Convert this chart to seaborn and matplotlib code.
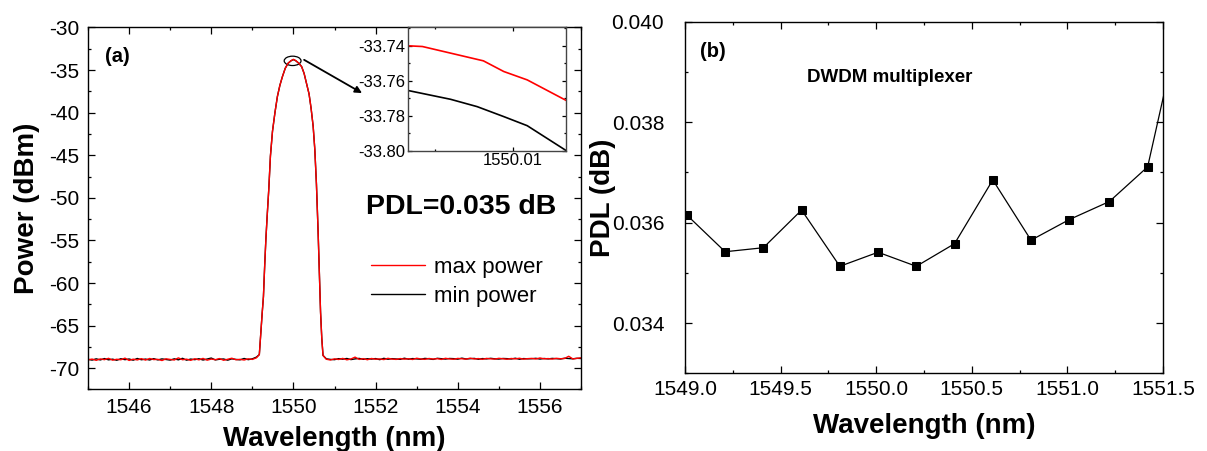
import numpy as np
import pandas as pd
import matplotlib
matplotlib.use("Agg")
import matplotlib.pyplot as plt
import seaborn as sns
from matplotlib.patches import Ellipse
from matplotlib.ticker import MultipleLocator, FixedLocator, FormatStrFormatter
from matplotlib.lines import Line2D

# ---------------- Panel (a) data ----------------
floor_left_wl = np.round(np.arange(1545.0, 1549.15, 0.1), 2)    # 1545.0 .. 1549.1
floor_right_wl = np.round(np.arange(1550.8, 1557.05, 0.1), 2)   # 1550.8 .. 1557.0

max_floor_left = [-69.02, -68.93, -69.08, -68.91, -69.00, -68.84, -69.06, -68.95, -69.01, -68.82,
                  -69.09, -68.94, -69.03, -68.88, -69.05, -68.86, -68.99, -68.96, -69.10, -68.90,
                  -68.97, -69.04, -68.79, -69.01, -68.94, -69.08, -68.89, -69.02, -68.85, -69.06,
                  -68.93, -69.00, -68.87, -69.07, -68.95, -68.83, -69.01, -68.96, -69.04, -68.90,
                  -68.97, -68.78]
min_floor_left = [-68.96, -69.05, -68.90, -69.03, -68.87, -69.02, -68.94, -69.07, -68.89, -69.00,
                  -68.92, -69.06, -68.86, -69.01, -68.93, -69.04, -68.88, -69.03, -68.91, -68.98,
                  -69.05, -68.90, -69.02, -68.84, -69.06, -68.93, -69.00, -68.89, -69.04, -68.92,
                  -68.81, -69.03, -68.95, -68.92, -69.06, -68.90, -68.97, -69.02, -68.86, -69.00,
                  -68.90, -68.70]
max_floor_right = [-68.95, -69.04, -68.90, -68.98, -68.85, -69.02, -68.92, -68.70, -68.97, -68.88,
                   -69.01, -68.86, -68.95, -68.91, -68.99, -68.84, -68.93, -68.97, -68.87, -68.94,
                   -68.89, -68.98, -68.83, -68.92, -68.96, -68.86, -68.93, -68.88, -68.97, -68.84,
                   -68.91, -68.95, -68.85, -68.90, -68.94, -68.82, -68.92, -68.87, -68.96, -68.85,
                   -68.90, -68.93, -68.84, -68.89, -68.95, -68.86, -68.91, -68.83, -68.94, -68.88,
                   -68.85, -68.92, -68.80, -68.90, -68.87, -68.93, -68.84, -68.89, -68.86, -68.60,
                   -68.91, -68.85, -68.78]
min_floor_right = [-68.90, -68.97, -69.00, -68.88, -68.94, -68.86, -68.99, -68.91, -68.85, -68.96,
                   -68.89, -68.93, -68.87, -69.00, -68.84, -68.95, -68.88, -68.92, -68.96, -68.83,
                   -68.94, -68.87, -68.91, -68.95, -68.85, -68.90, -68.97, -68.84, -68.89, -68.93,
                   -68.86, -68.88, -68.94, -68.82, -68.92, -68.89, -68.85, -68.95, -68.87, -68.91,
                   -68.84, -68.90, -68.93, -68.86, -68.88, -68.92, -68.83, -68.95, -68.87, -68.90,
                   -68.89, -68.84, -68.93, -68.86, -68.91, -68.85, -68.88, -68.92, -68.83, -68.87,
                   -68.90, -68.84, -68.86]

peak_wl = [1549.17, 1549.21, 1549.24, 1549.27, 1549.30, 1549.33, 1549.36, 1549.40, 1549.44,
           1549.49, 1549.55, 1549.61, 1549.67, 1549.73, 1549.80, 1549.87, 1549.94, 1550.00,
           1550.06, 1550.13, 1550.20, 1550.26, 1550.32, 1550.38, 1550.43, 1550.48, 1550.52,
           1550.56, 1550.60, 1550.63, 1550.66, 1550.69, 1550.72]
max_peak = [-68.4, -65.5, -63.5, -61.6, -58.0, -54.8, -52.2, -49.0, -45.1,
            -42.2, -40.0, -38.1, -36.8, -35.8, -34.8, -34.2, -33.90, -33.74,
            -33.90, -34.2, -34.6, -35.4, -36.6, -37.8, -39.5, -41.6, -44.3,
            -48.4, -53.9, -58.7, -63.4, -66.5, -68.5]
min_peak = [-68.4, -65.5, -63.5, -61.6, -58.0, -54.8, -52.2, -49.0, -45.1,
            -42.2, -40.0, -38.1, -36.8, -35.8, -34.8, -34.2, -33.92, -33.77,
            -33.92, -34.2, -34.6, -35.4, -36.6, -37.8, -39.5, -41.6, -44.3,
            -48.4, -53.9, -58.7, -63.4, -66.5, -68.5]

# inset (zoom on the peak)
inset_wl_max = [1550.0033, 1550.0042, 1550.0081, 1550.0094, 1550.0109, 1550.0134]
inset_p_max = [-33.7400, -33.7404, -33.7486, -33.7547, -33.7595, -33.7713]
inset_wl_min = [1550.0033, 1550.0060, 1550.0077, 1550.0094, 1550.0109, 1550.0134]
inset_p_min = [-33.7656, -33.7706, -33.7748, -33.7805, -33.7857, -33.8000]

# ---------------- Panel (b) data ----------------
pdl_wl = [1549.01, 1549.21, 1549.41, 1549.61, 1549.81, 1550.01, 1550.21,
          1550.41, 1550.61, 1550.81, 1551.01, 1551.22, 1551.42, 1551.62]
pdl_db = [0.03615, 0.03542, 0.03550, 0.03625, 0.03513, 0.03541, 0.03513,
          0.03558, 0.03685, 0.03565, 0.03606, 0.03642, 0.03711, 0.04050]

# ---------------- style ----------------
sns.set_style("ticks")
plt.rcParams["font.family"] = ["Liberation Sans", "DejaVu Sans"]
plt.rcParams.update({
    "axes.unicode_minus": False,
    "text.color": "black", "axes.labelcolor": "black",
    "xtick.labelcolor": "black", "ytick.labelcolor": "black",
    "xtick.direction": "in", "ytick.direction": "in",
    "xtick.top": True, "ytick.right": True,
    "xtick.major.size": 5, "ytick.major.size": 5,
    "xtick.minor.size": 2.5, "ytick.minor.size": 2.5,
    "xtick.major.width": 0.9, "ytick.major.width": 0.9,
    "xtick.minor.width": 0.9, "ytick.minor.width": 0.9,
    "axes.linewidth": 1.0, "axes.edgecolor": "black",
    "xtick.color": "black", "ytick.color": "black",
})

fig = plt.figure(figsize=(12.07, 4.51), dpi=100)

ax1 = fig.add_axes([0.0729, 0.1364, 0.4085, 0.8027])
ax2 = fig.add_axes([0.5675, 0.1723, 0.3960, 0.7796])
axi = fig.add_axes([0.3383, 0.6659, 0.1309, 0.2732])

df_max = pd.DataFrame({"wl": np.concatenate([floor_left_wl, peak_wl, floor_right_wl]),
                       "p": np.concatenate([max_floor_left, max_peak, max_floor_right])})
df_min = pd.DataFrame({"wl": np.concatenate([floor_left_wl, peak_wl, floor_right_wl]),
                       "p": np.concatenate([min_floor_left, min_peak, min_floor_right])})

sns.lineplot(data=df_min, x="wl", y="p", color="black", lw=1.0, ax=ax1,
             estimator=None, sort=False)
sns.lineplot(data=df_max, x="wl", y="p", color="#ff0000", lw=1.0, ax=ax1,
             estimator=None, sort=False)

ax1.set_xlim(1545, 1557)
ax1.set_ylim(-72.5, -30)
ax1.xaxis.set_major_locator(MultipleLocator(2))
ax1.xaxis.set_minor_locator(MultipleLocator(1))
ax1.yaxis.set_major_locator(MultipleLocator(5))
ax1.yaxis.set_minor_locator(MultipleLocator(2.5))
ax1.tick_params(which="both", labelsize=15, pad=6)
ax1.set_xlabel("Wavelength (nm)", fontsize=20, fontweight="bold")
ax1.set_ylabel("Power (dBm)", fontsize=20, fontweight="bold")
ax1.xaxis.set_label_coords(0.5, -0.100)
ax1.yaxis.set_label_coords(-0.098, 0.5)

ax1.text(0.034, 0.919, "(a)", transform=ax1.transAxes, fontsize=14.5,
         fontweight="bold", ha="left", va="center")
ax1.text(0.757, 0.503, "PDL=0.035 dB", transform=ax1.transAxes, fontsize=20.5,
         fontweight="bold", ha="center", va="center")

ell = Ellipse((1549.98, -33.92), width=0.41, height=1.1, fill=False,
              edgecolor="black", lw=0.9)
ax1.add_patch(ell)
ax1.annotate("", xy=(1551.67, -37.7), xytext=(1550.26, -33.8),
             arrowprops=dict(arrowstyle="-|>", color="black", lw=1.3,
                             mutation_scale=10, shrinkA=0, shrinkB=0))

handles = [Line2D([], [], color="#ff0000", lw=1.0), Line2D([], [], color="black", lw=1.0)]
ax1.legend(handles, ["max power", "min power"], loc="center left",
           bbox_to_anchor=(0.575, 0.297), frameon=False, fontsize=16,
           handlelength=2.4, handletextpad=0.4, labelspacing=0.35,
           borderpad=0, borderaxespad=0)

# inset
dfi_max = pd.DataFrame({"wl": inset_wl_max, "p": inset_p_max})
dfi_min = pd.DataFrame({"wl": inset_wl_min, "p": inset_p_min})
sns.lineplot(data=dfi_min, x="wl", y="p", color="black", lw=1.2, ax=axi,
             estimator=None, sort=False)
sns.lineplot(data=dfi_max, x="wl", y="p", color="#ff0000", lw=1.2, ax=axi,
             estimator=None, sort=False)
axi.set_xlim(1550.0033, 1550.0134)
axi.set_ylim(-33.80, -33.7295)
axi.xaxis.set_major_locator(FixedLocator([1550.01]))
axi.xaxis.set_minor_locator(MultipleLocator(0.005))
axi.yaxis.set_major_locator(MultipleLocator(0.02))
axi.yaxis.set_minor_locator(MultipleLocator(0.01))
axi.xaxis.set_major_formatter(FormatStrFormatter("%.2f"))
axi.yaxis.set_major_formatter(FormatStrFormatter("%.2f"))
axi.tick_params(which="major", length=3, labelsize=12, pad=2)
axi.tick_params(which="minor", length=1.5)
axi.set_xlabel("")
axi.set_ylabel("")
axi.set_facecolor("white")
for s in axi.spines.values():
    s.set_color("#444444")

# ---------------- Panel (b) ----------------
dfb = pd.DataFrame({"wl": pdl_wl, "pdl": pdl_db})
sns.lineplot(data=dfb, x="wl", y="pdl", color="black", lw=0.9, marker="s",
             markersize=6, markeredgecolor="black", ax=ax2, estimator=None, sort=False)
ax2.set_xlim(1549.0, 1551.5)
ax2.set_ylim(0.033, 0.040)
ax2.xaxis.set_major_locator(MultipleLocator(0.5))
ax2.xaxis.set_minor_locator(MultipleLocator(0.25))
ax2.yaxis.set_major_locator(MultipleLocator(0.002))
ax2.yaxis.set_minor_locator(MultipleLocator(0.001))
ax2.xaxis.set_major_formatter(FormatStrFormatter("%.1f"))
ax2.yaxis.set_major_formatter(FormatStrFormatter("%.3f"))
ax2.tick_params(axis="x", which="both", labelsize=15, pad=5)
ax2.tick_params(axis="y", which="both", labelsize=15, pad=15)
ax2.set_xlabel("Wavelength (nm)", fontsize=20, fontweight="bold")
ax2.set_ylabel("PDL (dB)", fontsize=20, fontweight="bold")
ax2.xaxis.set_label_coords(0.5, -0.112)
ax2.yaxis.set_label_coords(-0.144, 0.5)
ax2.text(0.031, 0.915, "(b)", transform=ax2.transAxes, fontsize=14.5,
         fontweight="bold", ha="left", va="center")
ax2.text(0.429, 0.842, "DWDM multiplexer", transform=ax2.transAxes, fontsize=13.5,
         fontweight="bold", ha="center", va="center")

fig.savefig("out.png", dpi=100)
